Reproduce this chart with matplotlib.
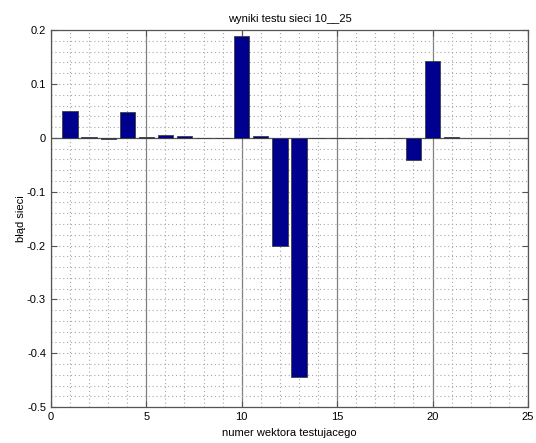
import numpy as np
import matplotlib
matplotlib.use('Agg')
import matplotlib.pyplot as plt
from matplotlib.ticker import MultipleLocator

plt.rcParams['font.family'] = ['Liberation Sans', 'DejaVu Sans']

# numer wektora testujacego i blad sieci
vectors = list(range(1, 22))
errors = [0.049, 0.002, -0.002, 0.0475, 0.001, 0.006, 0.004, 0.0, 0.0, 0.1895,
          0.004, -0.200, -0.444, -0.001, 0.0, 0.0, 0.0, 0.0, -0.042, 0.1426, 0.001]

title = 'wyniki testu sieci 10__25'
xlabel = 'numer wektora testujacego'
ylabel = 'błąd sieci'


def main():
    fig = plt.figure(figsize=(5.36, 4.43), dpi=100)
    ax = fig.add_axes([0.095, 0.081, 0.89, 0.851])

    ax.set_xlim(0, 25)
    ax.set_ylim(-0.5, 0.2)
    ax.xaxis.set_major_locator(MultipleLocator(5))
    ax.xaxis.set_minor_locator(MultipleLocator(1))
    ax.yaxis.set_major_locator(MultipleLocator(0.1))
    ax.yaxis.set_minor_locator(MultipleLocator(0.02))

    # siatka: pionowe glowne ciagle, reszta kropkowana
    dots = (0, (1, 2.5))
    ax.grid(which='major', axis='x', color='#808080', linestyle='-', linewidth=0.9)
    ax.grid(which='minor', axis='x', color='#a8a8a8', linestyle=dots, linewidth=0.8)
    ax.grid(which='both', axis='y', color='#a8a8a8', linestyle=dots, linewidth=0.8)
    ax.set_axisbelow(True)

    ax.bar(vectors, errors, width=0.8, color='#00008f', edgecolor='#404040',
           linewidth=0.6, zorder=3)
    ax.axhline(0, color='#555555', linewidth=0.9, zorder=2)

    ax.tick_params(which='both', direction='in', top=True, right=True,
                   labelsize=8, color='#555555')
    ax.tick_params(which='minor', length=0)
    ax.tick_params(which='major', length=4)
    for s in ax.spines.values():
        s.set_color('#555555')
        s.set_linewidth(0.9)

    ax.set_yticks(np.arange(-0.5, 0.21, 0.1))
    ax.set_yticklabels(['-0.5', '-0.4', '-0.3', '-0.2', '-0.1', '0', '0.1', '0.2'])

    ax.set_title(title, fontsize=8, pad=6)
    ax.set_xlabel(xlabel, fontsize=8, labelpad=4)
    ax.set_ylabel(ylabel, fontsize=8, labelpad=1)

    fig.savefig('out.png', dpi=100)


if __name__ == '__main__':
    main()
